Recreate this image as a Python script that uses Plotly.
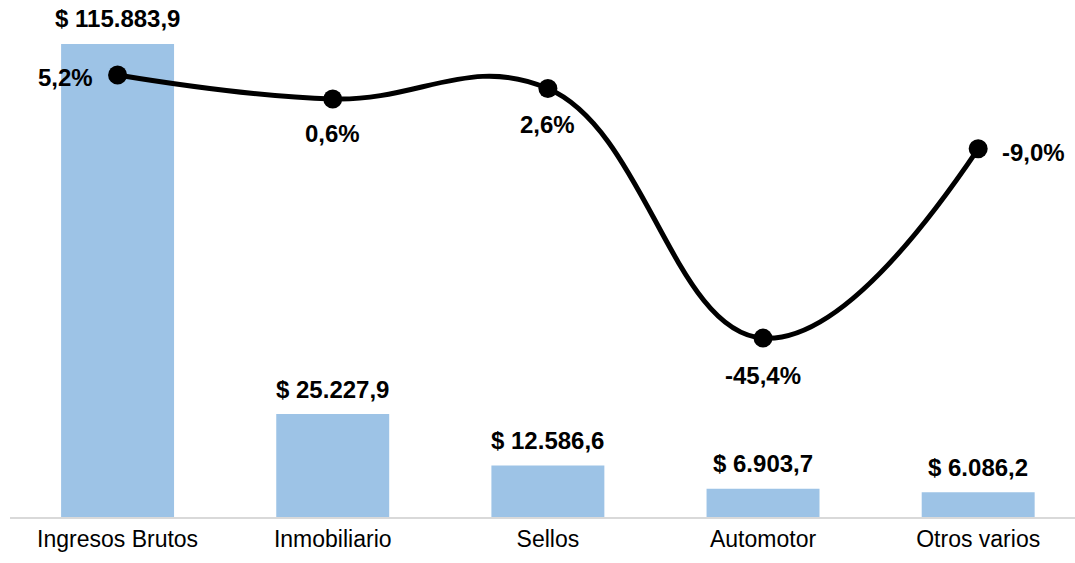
import plotly.graph_objects as go

categories = ["Ingresos Brutos", "Inmobiliario", "Sellos", "Automotor", "Otros varios"]
recaudacion = [115883.9, 25227.9, 12586.6, 6903.7, 6086.2]
variacion = [5.2, 0.6, 2.6, -45.4, -9.0]

bar_labels = ["$ " + f"{v:,.1f}".replace(",", "X").replace(".", ",").replace("X", ".") for v in recaudacion]
pct_labels = [f"{v:.1f}%".replace(".", ",") for v in variacion]

FONT = "Arial, 'Liberation Sans', sans-serif"
BAR_COLOR = "#9DC3E6"

fig = go.Figure()
fig.add_trace(go.Bar(
    x=categories, y=recaudacion, marker=dict(color=BAR_COLOR, line=dict(width=0)),
    width=0.525, yaxis="y", hoverinfo="skip", showlegend=False,
))
fig.add_trace(go.Scatter(
    x=categories, y=variacion, yaxis="y2", mode="lines+markers",
    line=dict(color="black", width=5, shape="spline", smoothing=1.2),
    marker=dict(color="black", size=19), showlegend=False, hoverinfo="skip",
))

annotations = []
for c, v, t in zip(categories, recaudacion, bar_labels):
    annotations.append(dict(x=c, y=v, xref="x", yref="y", text=t, showarrow=False,
                            yanchor="middle", yshift=25,
                            font=dict(family=FONT, size=24, color="black", weight="bold")))

# position of percentage labels around each point: (xanchor, xshift, yshift)
pct_pos = [("right", -23, -2), ("center", 0, -35), ("center", 0, -36), ("center", 0, -37), ("left", 22, -4)]
for c, v, t, (xa, xs, ys) in zip(categories, variacion, pct_labels, pct_pos):
    annotations.append(dict(x=c, y=v, xref="x", yref="y2", text=t, showarrow=False,
                            xanchor=xa, yanchor="middle", xshift=xs, yshift=ys,
                            font=dict(family=FONT, size=24, color="black", weight="bold")))

fig.update_layout(
    width=1075, height=563,
    margin=dict(l=10, r=0, t=10, b=46),
    paper_bgcolor="white", plot_bgcolor="white",
    xaxis=dict(range=[-0.5, 4.45], showline=True, linecolor="#D9D9D9", linewidth=2,
               showgrid=False, ticks="", tickfont=dict(family=FONT, size=23, color="black"),
               fixedrange=True),
    yaxis=dict(range=[0, 124200], visible=False, showgrid=False, fixedrange=True),
    yaxis2=dict(range=[-79.8, 17.7], overlaying="y", visible=False, showgrid=False, fixedrange=True),
    annotations=annotations,
)

fig.write_html("out.html", config={"displayModeBar": False},
               post_script="document.body.style.margin='0';document.body.style.overflow='hidden';")
